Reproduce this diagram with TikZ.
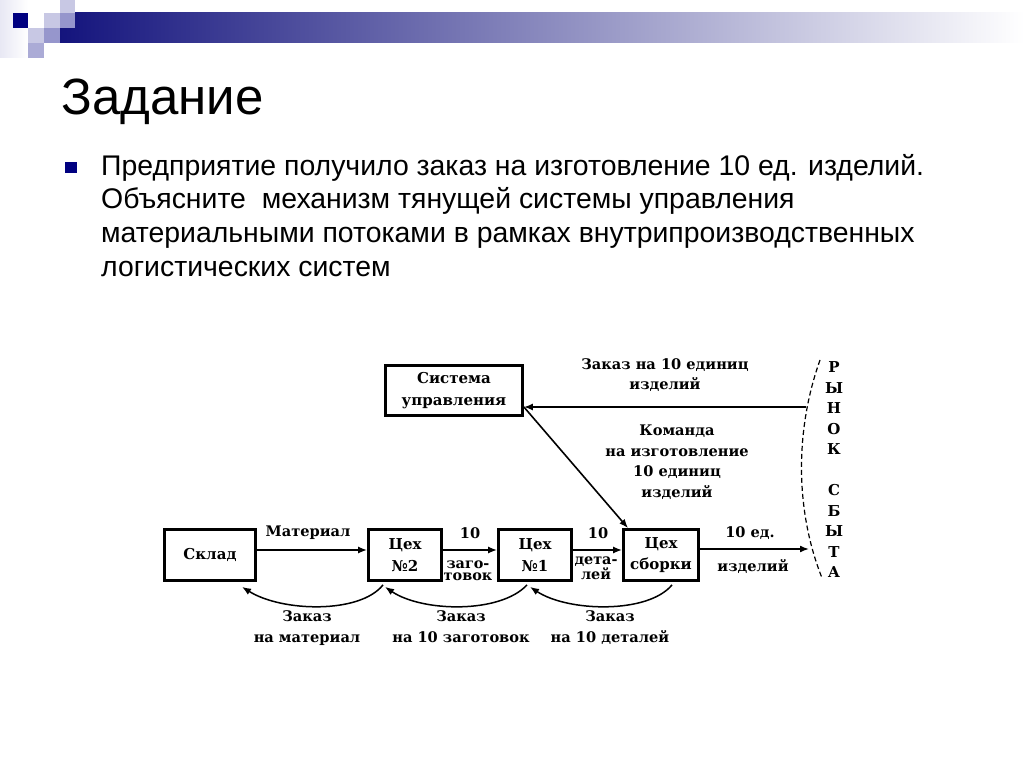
\documentclass[tikz,border=0pt]{standalone}
\usepackage{fontspec}
\setmainfont{Liberation Sans}
\newfontfamily\diagfont{DejaVu Serif}
\usetikzlibrary{arrows.meta,calc}
\definecolor{navy}{RGB}{20,20,125}
\definecolor{lav1}{RGB}{232,232,244}
\definecolor{lav2}{RGB}{200,200,228}
\definecolor{lav3}{RGB}{150,150,204}
\definecolor{navydark}{RGB}{0,0,128}
\begin{document}
\begin{tikzpicture}[x=1pt,y=-1pt,
  box/.style={draw, line width=2.8pt, inner sep=0pt, align=center,
    font=\diagfont\bfseries\fontsize{15}{21.5}\selectfont},
  lbl/.style={inner sep=0pt, align=center,
    font=\diagfont\bfseries\fontsize{14.6}{20.5}\selectfont},
  tight/.style={inner sep=0pt, align=center,
    font=\diagfont\bfseries\fontsize{14.4}{12.5}\selectfont},
  flow/.style={-{Latex[length=9pt,width=7pt]}, line width=1.6pt},
  back/.style={-{Latex[length=9pt,width=7pt]}, line width=1.5pt}]
\useasboundingbox (0,0) rectangle (1024,767);
\fill[white] (0,0) rectangle (1024,767);
% header decoration
\shade[left color=lav1, right color=white] (0,0) rectangle (28,58);
\shade[left color=navy, right color=white] (60,13) rectangle (1024,43);
\fill[navydark] (13,13) rectangle (28,28);
\fill[lav2] (44,13) rectangle (60,28);
\fill[lav2] (60,0) rectangle (75,13);
\fill[lav3] (60,13) rectangle (75,28);
\fill[lav2] (28,28) rectangle (44,43);
\fill[lav3] (44,28) rectangle (60,43);
\fill[lav3!80] (28,43) rectangle (44,58);
% title and text
\node[anchor=base west, inner sep=0pt, font=\fontsize{51}{60}\selectfont] (title) at (61,115) {Задание};
\fill[navydark] (65,162) rectangle (77,173);
\node[anchor=base west, inner sep=0pt, align=left, font=\fontsize{28.4}{33.5}\selectfont] (body) at (101,276)
 {Предприятие получило заказ на изготовление 10 ед. изделий.\\
  Объясните\ \ механизм тянущей системы управления\\
  материальными потоками в рамках внутрипроизводственных\\
  логистических систем};
% boxes
\node[box, minimum width=137pt, minimum height=50pt] (sys) at (454,390.5) {Система\\управления};
\node[box, minimum width=91pt, minimum height=51pt] (sklad) at (210,555) {Склад};
\node[box, minimum width=73pt, minimum height=51pt] (c2) at (405,555) {Цех\\№2};
\node[box, minimum width=73pt, minimum height=51pt] (c1) at (535,555) {Цех\\№1};
\node[box, minimum width=75pt, minimum height=51pt] (cs) at (661,555) {Цех\\сборки};
% market
\draw[line width=1.2pt, dash pattern=on 5pt off 3pt] (820,360) .. controls (795,430) and (795,510) .. (822,578);
\node[inner sep=0pt, align=center, font=\diagfont\bfseries\fontsize{15}{20.5}\selectfont] (market) at (834,470)
 {Р\\Ы\\Н\\О\\К\\\mbox{}\\С\\Б\\Ы\\Т\\А};
\coordinate (mk1) at (806,407);
\coordinate (mk2) at (809,549);
% connectors
\draw[flow] (mk1) -- (sys.east |- mk1);
\draw[flow] (sys.east |- mk1) -- ([xshift=-33pt]cs.north);
\draw[flow] ([yshift=5pt]sklad.east) -- ([yshift=5pt]c2.west);
\draw[flow] ([yshift=5pt]c2.east) -- ([yshift=5pt]c1.west);
\draw[flow] ([yshift=5pt]c1.east) -- ([yshift=5pt]cs.west);
\draw[flow] ([yshift=6pt]cs.east) -- (mk2);
\draw[back] ($(c2.south)+(-22,3)$) .. controls (360,614) and (282,612) .. ($(sklad.south)+(32,5)$);
\draw[back] ($(c1.south)+(-8,3)$) .. controls (500,614) and (422,612) .. ($(c2.south)+(-20,5)$);
\draw[back] ($(cs.south)+(11,3)$) .. controls (648,614) and (568,612) .. ($(c1.south)+(-5,5)$);
% labels
\node[lbl] (l1) at (665,375) {Заказ на 10 единиц\\изделий};
\node[lbl] (l2) at (677,462) {Команда\\на изготовление\\10 единиц\\изделий};
\node[lbl] (l3) at (308,533) {Материал};
\node[lbl] (l4) at (470,533) {10};
\node[tight] (l5) at (468,571) {заго-\\товок};
\node[lbl] (l6) at (598,533) {10};
\node[tight] (l7) at (596,568) {дета-\\лей};
\node[lbl] (l8) at (750,533) {10 ед.};
\node[lbl] (l9) at (753,567) {изделий};
\node[lbl, anchor=base] (l10) at (307,642) {Заказ\\на материал};
\node[lbl, anchor=base] (l11) at (461,642) {Заказ\\на 10 заготовок};
\node[lbl, anchor=base] (l12) at (610,642) {Заказ\\на 10 деталей};
\end{tikzpicture}
\end{document}
